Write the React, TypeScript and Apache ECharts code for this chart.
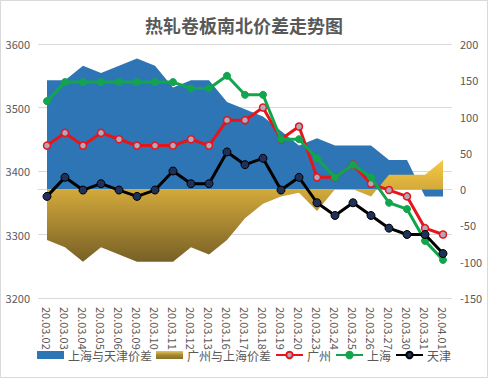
import React, { useEffect, useRef } from "react";
import * as echarts from "echarts";

const categories = [
  "20.03.02", "20.03.03", "20.03.04", "20.03.05", "20.03.06", "20.03.09",
  "20.03.10", "20.03.11", "20.03.12", "20.03.13", "20.03.16", "20.03.17",
  "20.03.18", "20.03.19", "20.03.20", "20.03.23", "20.03.24", "20.03.25",
  "20.03.26", "20.03.27", "20.03.30", "20.03.31", "20.04.01",
];

const spreadShTj = [150, 150, 170, 160, 170, 180, 170, 140, 150, 150, 120, 110, 100, 80, 60, 70, 60, 60, 60, 40, 40, -10, -10];
const spreadGzSh = [-70, -80, -100, -80, -90, -100, -100, -100, -80, -90, -70, -40, -20, -10, -5, -30, 0, 0, -10, 20, 20, 20, 40];
const guangzhou = [3440, 3460, 3440, 3460, 3450, 3440, 3440, 3440, 3450, 3440, 3480, 3480, 3500, 3450, 3470, 3390, 3390, 3410, 3380, 3370, 3360, 3310, 3300];
const shanghai = [3510, 3540, 3540, 3540, 3540, 3540, 3540, 3540, 3530, 3530, 3550, 3520, 3520, 3450, 3450, 3420, 3390, 3410, 3390, 3350, 3340, 3290, 3260];
const tianjin = [3360, 3390, 3370, 3380, 3370, 3360, 3370, 3400, 3380, 3380, 3430, 3410, 3420, 3370, 3390, 3350, 3330, 3350, 3330, 3310, 3300, 3300, 3270];

const leftTicks = { min: 3200, max: 3600, interval: 100 };
const rightTicks = { min: -150, max: 200, interval: 50 };

const TEXT = "#595959";
const BLUE = "#2E75B6";

export default function App() {
  const ref = useRef<HTMLDivElement>(null);

  useEffect(() => {
    document.body.style.margin = "0";
    if (!ref.current) return;
    const chart = echarts.init(ref.current, undefined, { renderer: "svg" });
    const gold = new echarts.graphic.LinearGradient(0, 0, 0, 1, [
      { offset: 0, color: "#F6CA42" },
      { offset: 0.28, color: "#D4AA3B" },
      { offset: 1, color: "#786026" },
    ]);
    const goldLegend = new echarts.graphic.LinearGradient(0, 0, 0, 1, [
      { offset: 0, color: "#E8C45A" },
      { offset: 0.5, color: "#A58932" },
      { offset: 1, color: "#8A7028" },
    ]);
    const font = "'Noto Sans CJK SC', 'Noto Sans', sans-serif";
    chart.setOption({
      animation: false,
      textStyle: { fontFamily: font },
      graphic: [
        {
          type: "rect",
          shape: { x: 0.5, y: 0.5, width: 487, height: 377 },
          style: { fill: "none", stroke: "#D9D9D9", lineWidth: 1 },
          silent: true,
        },
      ],
      title: {
        text: "热轧卷板南北价差走势图",
        left: "center",
        top: 11,
        textStyle: { fontSize: 18, fontWeight: "bold", color: TEXT, fontFamily: font },
      },
      legend: {
        bottom: 12,
        left: "center",
        itemWidth: 27,
        itemHeight: 8,
        itemGap: 4,
        textStyle: { fontSize: 12, color: TEXT, padding: [0, 0, 0, -1] },
        data: [
          { name: "上海与天津价差", icon: "rect", itemStyle: { color: BLUE } },
          { name: "广州与上海价差", icon: "rect", itemStyle: { color: goldLegend } },
          { name: "广州" },
          { name: "上海" },
          { name: "天津" },
        ],
      },
      grid: { left: 38, right: 36, top: 44, bottom: 80 },
      xAxis: {
        type: "category",
        data: categories,
        boundaryGap: true,
        axisLine: { show: true, lineStyle: { color: "#D9D9D9" } },
        axisTick: { show: false },
        axisLabel: { rotate: -90, fontSize: 11, color: TEXT, margin: 9, interval: 0 },
      },
      yAxis: [
        {
          type: "value",
          ...leftTicks,
          axisLine: { show: false },
          axisTick: { show: false },
          axisLabel: { fontSize: 11, color: TEXT, margin: 8, formatter: (v: number) => String(v) },
          splitLine: { lineStyle: { color: "#D9D9D9" } },
        },
        {
          type: "value",
          ...rightTicks,
          position: "right",
          axisLine: { show: false },
          axisTick: { show: false },
          axisLabel: { fontSize: 11, color: TEXT, margin: 8, formatter: (v: number) => String(v) },
          splitLine: { show: false },
        },
      ],
      series: [
        {
          name: "上海与天津价差",
          type: "line",
          yAxisIndex: 1,
          data: spreadShTj,
          showSymbol: false,
          symbol: "none",
          lineStyle: { width: 0 },
          itemStyle: { color: BLUE },
          areaStyle: { color: BLUE, opacity: 1, origin: "auto" },
          z: 1,
        },
        {
          name: "广州与上海价差",
          type: "line",
          yAxisIndex: 1,
          data: spreadGzSh,
          showSymbol: false,
          symbol: "none",
          lineStyle: { width: 0 },
          itemStyle: { color: "#C9A23A" },
          areaStyle: { color: gold, opacity: 1, origin: "auto" },
          z: 2,
        },
        {
          name: "广州",
          type: "line",
          yAxisIndex: 0,
          data: guangzhou,
          symbol: "circle",
          symbolSize: 7,
          lineStyle: { color: "#E5151C", width: 3 },
          itemStyle: { color: "#B3A7BA", borderColor: "#E5151C", borderWidth: 1.5 },
          z: 3,
        },
        {
          name: "上海",
          type: "line",
          yAxisIndex: 0,
          data: shanghai,
          symbol: "circle",
          symbolSize: 7,
          lineStyle: { color: "#13A54E", width: 3 },
          itemStyle: { color: "#13A54E", borderColor: "#13A54E", borderWidth: 1 },
          z: 4,
        },
        {
          name: "天津",
          type: "line",
          yAxisIndex: 0,
          data: tianjin,
          symbol: "circle",
          symbolSize: 8,
          lineStyle: { color: "#000000", width: 3 },
          itemStyle: { color: "#1F3158", borderColor: "#000000", borderWidth: 1 },
          z: 5,
        },
      ],
    });
    return () => chart.dispose();
  }, []);

  return <div ref={ref} style={{ width: 488, height: 378 }} />;
}
